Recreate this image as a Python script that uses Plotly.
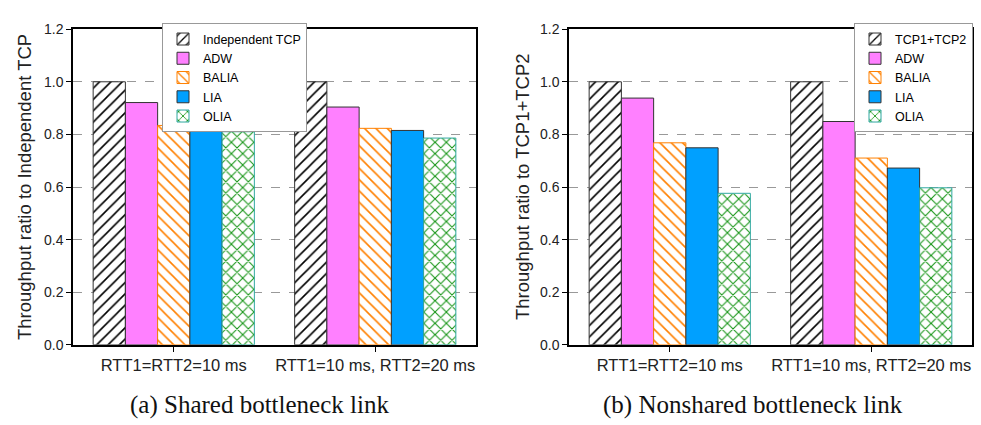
import plotly.graph_objects as go

categories = ["RTT1=RTT2=10 ms", "RTT1=10 ms, RTT2=20 ms"]
series_a = ["Independent TCP", "ADW", "BALIA", "LIA", "OLIA"]
series_b = ["TCP1+TCP2", "ADW", "BALIA", "LIA", "OLIA"]
values_a = [
    [1.0, 1.0],
    [0.921, 0.904],
    [0.834, 0.823],
    [0.832, 0.815],
    [0.810, 0.786],
]
values_b = [
    [1.0, 1.0],
    [0.938, 0.849],
    [0.768, 0.710],
    [0.749, 0.672],
    [0.576, 0.597],
]
y_ticks = [0.0, 0.2, 0.4, 0.6, 0.8, 1.0, 1.2]

styles = [
    dict(color="white", line=dict(color="#333333", width=1),
         pattern=dict(shape="/", fgcolor="black", bgcolor="white", size=8, solidity=0.2, fgopacity=1)),
    dict(color="#FF80FF", line=dict(color="#333333", width=1)),
    dict(color="white", line=dict(color="#FF8000", width=1),
         pattern=dict(shape="\\", fgcolor="#FF8000", bgcolor="white", size=8, solidity=0.2, fgopacity=1)),
    dict(color="#00A0FF", line=dict(color="#333333", width=1)),
    dict(color="white", line=dict(color="#2FA8A0", width=1),
         pattern=dict(shape="x", fgcolor="#149414", bgcolor="white", size=8, solidity=0.25, fgopacity=1)),
]

fig = go.Figure()
for name, vals, st in zip(series_a, values_a, styles):
    fig.add_trace(go.Bar(x=categories, y=vals, name=name, marker=st,
                         xaxis="x", yaxis="y", legend="legend"))
for name, vals, st in zip(series_b, values_b, styles):
    fig.add_trace(go.Bar(x=categories, y=vals, name=name, marker=st,
                         xaxis="x2", yaxis="y2", legend="legend2"))

W, H = 981, 425
top, bottom = 22, 350
ydom = [1 - bottom / H, 1 - top / H]
xdom1 = [73 / W, 476 / W]
xdom2 = [569 / W, 972 / W]

FONT = "Arial, Liberation Sans, sans-serif"
tickfont = dict(family=FONT, size=14, color="#222")
xtickfont = dict(family=FONT, size=16.5, color="#222")

def xaxis(dom, anchor):
    return dict(domain=dom, anchor=anchor, type="category", range=[-0.5, 1.5],
                showline=True, linecolor="black", linewidth=1.5, mirror=True,
                ticks="outside", ticklen=5, tickcolor="black", tickwidth=1.2,
                tickfont=xtickfont, showgrid=False, zeroline=False)

def yaxis(anchor):
    return dict(domain=ydom, anchor=anchor, range=[0, 1.2], tickvals=y_ticks,
                ticktext=[f"{v:.1f}" for v in y_ticks],
                showline=True, linecolor="black", linewidth=1.5, mirror=True,
                ticks="outside", ticklen=5, tickcolor="black", tickwidth=1.2,
                tickfont=tickfont, showgrid=True, gridcolor="#999999",
                griddash="dash", gridwidth=1, zeroline=False)

def yaxis_right(overlay, anchor):
    return dict(domain=ydom, anchor=anchor, overlaying=overlay, side="right",
                range=[0, 1.2], tickvals=y_ticks, showticklabels=False,
                ticks="inside", ticklen=5, tickcolor="black", tickwidth=1.2,
                showgrid=False, showline=False, zeroline=False)

legend_common = dict(xanchor="left", yanchor="top",
                     bgcolor="white", bordercolor="#999999", borderwidth=1,
                     font=dict(family=FONT, size=12.5, color="black"),
                     tracegroupgap=0, itemwidth=30)

fig.update_layout(
    width=W, height=H,
    margin=dict(l=0, r=0, t=0, b=0),
    paper_bgcolor="white", plot_bgcolor="white",
    barmode="group", bargap=0.2, bargroupgap=0,
    xaxis=xaxis(xdom1, "y"),
    yaxis=yaxis("x"),
    xaxis2=xaxis(xdom2, "y2"),
    yaxis2=yaxis("x2"),
    yaxis3=yaxis_right("y", "x"),
    yaxis4=yaxis_right("y2", "x2"),
    legend=dict(x=162 / W, y=1 - 16 / H, **legend_common),
    legend2=dict(x=854 / W, y=1 - 16 / H, **legend_common),
    showlegend=True,
    font=dict(family=FONT),
)

annots = [
    dict(text="Throughput ratio to Independent TCP", x=25 / W, y=1 - 186 / H, textangle=-90,
         font=dict(size=18.5, family=FONT, color="#222")),
    dict(text="Throughput ratio to TCP1+TCP2", x=523 / W, y=1 - 186 / H, textangle=-90,
         font=dict(size=18.5, family=FONT, color="#222")),
    dict(text="(a) Shared bottleneck link", x=259 / W, y=1 - 413 / H,
         font=dict(size=25, family="Liberation Serif, Times New Roman, serif", color="#111")),
    dict(text="(b) Nonshared bottleneck link", x=753 / W, y=1 - 413 / H,
         font=dict(size=25, family="Liberation Serif, Times New Roman, serif", color="#111")),
]
for a in annots:
    fig.add_annotation(xref="paper", yref="paper", xanchor="center", yanchor="middle",
                       showarrow=False, **a)

fig.write_html("out.html")
